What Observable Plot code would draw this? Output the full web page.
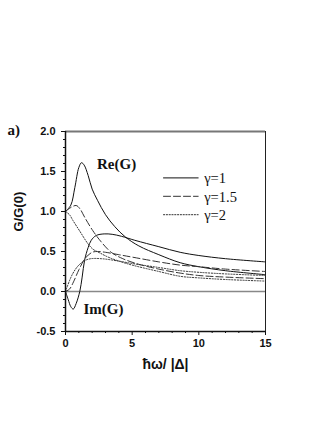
<!DOCTYPE html>
<html><head><meta charset="utf-8">
<script src="https://cdn.jsdelivr.net/npm/d3@7"></script>
<script src="https://cdn.jsdelivr.net/npm/@observablehq/plot@0.6"></script>
<style>body{margin:0;background:#fff} svg{display:block}</style>
</head><body><div id="chart"></div>
<script>
// Re(G), gamma = 1 (solid)
const re1X = [0, 0.4, 0.7, 1.0, 1.2, 1.4, 1.7, 2.0, 2.4, 3.0, 3.7, 4.5, 5.5, 7, 8.6, 10, 12, 15];
const re1Y = [1.0, 1.08, 1.3, 1.55, 1.61, 1.58, 1.45, 1.28, 1.14, 0.96, 0.81, 0.68, 0.57, 0.46, 0.36, 0.31, 0.26, 0.21];
// Im(G), gamma = 1 (solid)
const im1X = [0, 0.2, 0.4, 0.58, 0.8, 1.07, 1.25, 1.43, 1.7, 1.93, 2.3, 2.9, 3.5, 4.2, 5.2, 7, 8.6, 10, 12, 15];
const im1Y = [0, -0.1, -0.19, -0.22, -0.15, 0, 0.18, 0.39, 0.55, 0.64, 0.70, 0.72, 0.715, 0.69, 0.64, 0.56, 0.49, 0.45, 0.41, 0.37];
// Re(G), gamma = 1.5 (dashed)
const re15X = [0, 0.4, 0.8, 1.1, 1.43, 2.05, 2.68, 3.43, 4.3, 5.5, 7, 8.6, 10, 12, 15];
const re15Y = [1.0, 1.05, 1.075, 1.03, 0.93, 0.76, 0.62, 0.49, 0.41, 0.34, 0.28, 0.23, 0.2, 0.18, 0.16];
// Im(G), gamma = 1.5 (dashed)
const im15X = [0, 0.3, 0.6, 1.0, 1.5, 2.0, 2.4, 3.0, 4, 5, 7, 8.6, 10, 12, 15];
const im15Y = [0, 0.03, 0.12, 0.27, 0.42, 0.49, 0.5, 0.49, 0.46, 0.43, 0.37, 0.33, 0.31, 0.28, 0.25];
// Re(G), gamma = 2 (dotted)
const re2X = [0, 0.3, 0.55, 1.05, 1.67, 2.05, 2.6, 3.2, 4, 5, 7, 8.6, 10, 12, 15];
const re2Y = [1.0, 0.96, 0.89, 0.76, 0.6, 0.53, 0.48, 0.43, 0.38, 0.33, 0.25, 0.19, 0.17, 0.15, 0.13];
// Im(G), gamma = 2 (dotted)
const im2X = [0, 0.5, 1.0, 1.5, 1.9, 2.7, 4, 5, 7, 8.6, 10, 12, 15];
const im2Y = [0, 0.21, 0.33, 0.39, 0.41, 0.41, 0.38, 0.35, 0.3, 0.26, 0.24, 0.22, 0.2];

const gammaLabels = ["γ=1", "γ=1.5", "γ=2"];
const xMajorTicks = [0, 5, 10, 15];
const yMajorTicks = [-0.5, 0, 0.5, 1.0, 1.5, 2.0];

const styles = [
  {stroke: "#111", strokeDasharray: null, strokeWidth: 1},
  {stroke: "#333", strokeDasharray: "7,3", strokeWidth: 1},
  {stroke: "#333", strokeDasharray: "1.2,1.6", strokeWidth: 1}
];
const curves = [
  [re1X, re1Y, 0], [im1X, im1Y, 0],
  [re15X, re15Y, 1], [im15X, im15Y, 1],
  [re2X, re2Y, 2], [im2X, im2Y, 2]
];
const curveMarks = curves.map(([xs, ys, g]) =>
  Plot.line(xs.map((x, i) => ({x, y: ys[i]})), {x: "x", y: "y", curve: "catmull-rom", ...styles[g]}));

const legendMarks = gammaLabels.flatMap((lab, i) => {
  const y = 1.42 - i * 0.23;
  return [
    Plot.line([{x: 7.35, y}, {x: 9.95, y}], {x: "x", y: "y", ...styles[i]}),
    Plot.text([lab], {x: 10.4, y: y - 0.01, text: d => d, textAnchor: "start", fontFamily: "Liberation Serif, Times New Roman, serif", fontSize: 14.5, fontWeight: "normal", fill: "#111"})
  ];
});

const xMinor = d3.range(0, 15.01, 1).filter(d => !xMajorTicks.includes(d));
const yMinor = d3.range(-5, 21, 1).map(d => d / 10).filter(d => !yMajorTicks.some(t => Math.abs(t - d) < 1e-9));

const serifBold = {fontFamily: "Liberation Serif, Times New Roman, serif", fontWeight: "bold", fontSize: 15, fill: "#111"};

const chart = Plot.plot({
  width: 311,
  height: 442,
  marginLeft: 65,
  marginRight: 46,
  marginTop: 131,
  marginBottom: 111,
  style: {fontFamily: "Liberation Sans, Arial, sans-serif", fontWeight: "bold", fontSize: "11px", color: "#111", background: "#fff"},
  x: {domain: [0, 15]},
  y: {domain: [-0.5, 2.0]},
  marks: [
    Plot.axisX({ticks: xMajorTicks, tickSize: 4, tickPadding: 4, tickFormat: d => String(d), label: null}),
    Plot.axisX({ticks: xMinor, tickSize: 2, tickFormat: () => "", label: null}),
    Plot.axisY({ticks: yMajorTicks, tickSize: 4, tickPadding: 6, tickFormat: d => d.toFixed(1), label: null}),
    Plot.axisY({ticks: yMinor, tickSize: 2, tickFormat: () => "", label: null}),
    Plot.ruleY([0], {stroke: "#888", strokeWidth: 1.5}),
    Plot.ruleY([2.0], {stroke: "#777", strokeWidth: 2}),
    Plot.ruleX([15], {stroke: "#222", strokeWidth: 1}),
    ...curveMarks,
    ...legendMarks,
    Plot.ruleX([0], {stroke: "#111", strokeWidth: 1.5}),
    Plot.ruleY([-0.5], {stroke: "#111", strokeWidth: 1.5}),
    Plot.text(["Re(G)"], {x: 3.83, y: 1.59, text: d => d, ...serifBold}),
    Plot.text(["Im(G)"], {x: 2.85, y: -0.225, text: d => d, ...serifBold}),
    Plot.text(["a)"], {frameAnchor: "top-left", dx: -58, dy: -7, text: d => d, ...serifBold}),
    Plot.text(["G/G(0)"], {frameAnchor: "left", dx: -47, rotate: -90, text: d => d, fontFamily: "Liberation Sans, Arial, sans-serif", fontWeight: "bold", fontSize: 13, fill: "#111"}),
    Plot.text(["ħω/ |Δ|"], {frameAnchor: "bottom", dy: 37, text: d => d, fontFamily: "Liberation Sans, Arial, sans-serif", fontWeight: "bold", fontSize: 14, fill: "#111"})
  ]
});
document.getElementById("chart").append(chart);
</script>
</body></html>
